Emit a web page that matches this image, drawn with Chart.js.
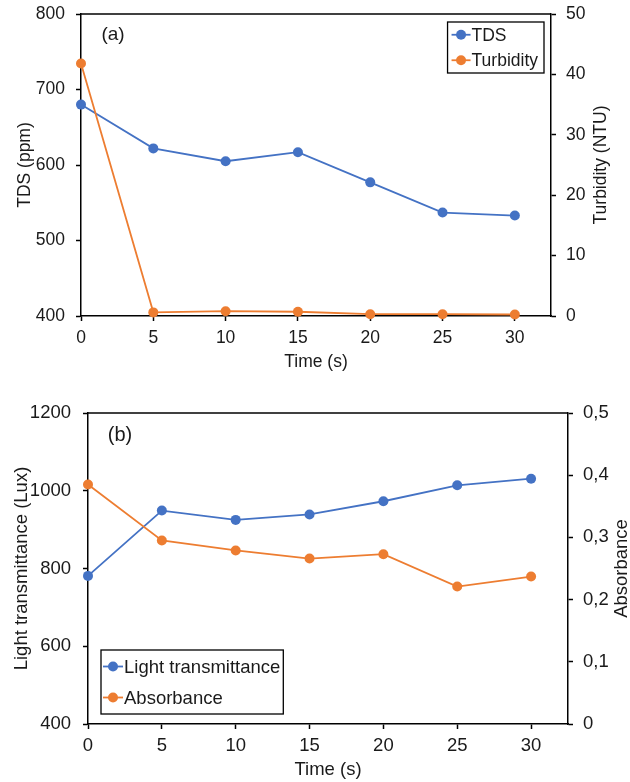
<!DOCTYPE html>
<html>
<head>
<meta charset="UTF-8">
<title>TDS, turbidity, light transmittance and absorbance vs time</title>
<script src="https://cdn.jsdelivr.net/npm/chart.js"></script>
<style>
  body { margin: 0; background: #fff; }
  canvas { position: absolute; left: 0; }
  #chartA { top: 0; }
  #chartB { top: 375px; }
</style>
</head>
<body>
<canvas id="chartA" width="630" height="375"></canvas>
<canvas id="chartB" width="630" height="407"></canvas>
<script>
// time points (s)
const times = [0, 5, 10, 15, 20, 25, 30];
const xTicks = [0, 5, 10, 15, 20, 25, 30];

// panel (a)
const tds = [680, 622, 605, 617, 577, 537, 533];
const turbidity = [41.8, 0.6, 0.8, 0.7, 0.3, 0.3, 0.25];

// panel (b)
const lightTrans = [781, 949, 925, 939, 973, 1014, 1031];
const absorbance = [0.385, 0.295, 0.279, 0.266, 0.273, 0.221, 0.237];

const BLUE = '#4472C4';
const ORANGE = '#ED7D31';
const INK = '#1a1a1a';
const FAMILY = '"Liberation Sans", Arial, sans-serif';

function points(ys) {
    return times.map(function(t, i) { return { x: t, y: ys[i] }; });
}

function series(label, ys, color, axisId, order) {
    return {
        label: label,
        data: points(ys),
        yAxisID: axisId,
        borderColor: color,
        backgroundColor: color,
        borderWidth: 1.8,
        pointRadius: 5,
        pointHoverRadius: 5,
        pointBorderWidth: 0,
        tension: 0,
        clip: false,
        order: order
    };
}

// fixed axis box size; label overhang must not push the plot area around
function fixSize(size) {
    return function(s) {
        if (s.isHorizontal()) s.height = size; else s.width = size;
        s.paddingTop = 0; s.paddingBottom = 0;
        s.paddingLeft = 0; s.paddingRight = 0;
    };
}

function axis(fontSize, extra) {
    const base = {
        type: 'linear',
        grid: { drawOnChartArea: false, color: '#000', tickLength: 5, tickWidth: 1.5 },
        border: { color: '#000', width: 1.5 }
    };
    const t = extra.ticks || {};
    const out = Object.assign(base, extra);
    out.ticks = Object.assign({ font: { family: FAMILY, size: fontSize }, color: INK }, t);
    if (out.title) out.title.font = { family: FAMILY, size: fontSize };
    return out;
}

function plain(v) { return String(v); }

// frame line along the top of the plot area
const frameTop = {
    id: 'frameTop',
    afterDraw(chart) {
        const a = chart.chartArea, ctx = chart.ctx;
        ctx.save();
        ctx.strokeStyle = '#000';
        ctx.lineWidth = 1.5;
        ctx.beginPath();
        ctx.moveTo(a.left, a.top);
        ctx.lineTo(a.right, a.top);
        ctx.stroke();
        ctx.restore();
    }
};

// panel tag and right-hand axis title (reads bottom to top)
const extraText = {
    id: 'extraText',
    afterDraw(chart, args, o) {
        const a = chart.chartArea, ctx = chart.ctx;
        ctx.save();
        ctx.fillStyle = INK;
        ctx.textAlign = 'center';
        ctx.textBaseline = 'middle';
        ctx.font = o.tagSize + 'px ' + FAMILY;
        ctx.fillText(o.tag, a.left + o.tagDx, a.top + o.tagDy);
        ctx.font = o.fontSize + 'px ' + FAMILY;
        ctx.translate(o.rightX, (a.top + a.bottom) / 2);
        ctx.rotate(-Math.PI / 2);
        ctx.fillText(o.rightTitle, 0, 0);
        ctx.restore();
    }
};

// boxed legend with line-and-marker symbols
const boxLegend = {
    id: 'boxLegend',
    afterDraw(chart, args, o) {
        const a = chart.chartArea, ctx = chart.ctx;
        const sets = chart.data.datasets;
        ctx.save();
        ctx.font = o.fontSize + 'px ' + FAMILY;
        let textW = 0;
        sets.forEach(function(d) { textW = Math.max(textW, ctx.measureText(d.label).width); });
        const w = o.padL + o.symW + o.gap + textW + o.padR;
        const h = o.padT + o.rowH * sets.length + o.padB;
        const left = o.corner === 'tr' ? a.right - o.dx - w : a.left + o.dx;
        const top = o.corner === 'tr' ? a.top + o.dy : a.bottom - o.dy - h;
        ctx.fillStyle = '#fff';
        ctx.fillRect(left, top, w, h);
        ctx.strokeStyle = '#000';
        ctx.lineWidth = 1.3;
        ctx.strokeRect(left, top, w, h);
        sets.forEach(function(d, i) {
            const cy = top + o.padT + o.rowH * (i + 0.5);
            const sx = left + o.padL;
            ctx.strokeStyle = d.borderColor;
            ctx.lineWidth = 1.8;
            ctx.beginPath();
            ctx.moveTo(sx, cy);
            ctx.lineTo(sx + o.symW, cy);
            ctx.stroke();
            ctx.fillStyle = d.borderColor;
            ctx.beginPath();
            ctx.arc(sx + o.symW / 2, cy, 5, 0, Math.PI * 2);
            ctx.fill();
            ctx.fillStyle = INK;
            ctx.textAlign = 'left';
            ctx.textBaseline = 'middle';
            ctx.fillText(d.label, sx + o.symW + o.gap, cy + 1);
        });
        ctx.restore();
    }
};

function xAxis(fontSize, height, titlePad, tickPad) {
    return axis(fontSize, {
        position: 'bottom',
        min: 0,
        max: 32.5,
        afterBuildTicks: function(s) { s.ticks = xTicks.map(function(v) { return { value: v }; }); },
        ticks: { padding: tickPad, callback: plain },
        title: { display: true, text: 'Time (s)', color: INK, padding: { top: 0, bottom: titlePad } },
        afterFit: fixSize(height)
    });
}

const FONT_A = 17.5;
const FONT_B = 18.5;

const chartA = new Chart(document.getElementById('chartA'), {
    type: 'line',
    data: {
        datasets: [
            series('TDS', tds, BLUE, 'y', 1),
            series('Turbidity', turbidity, ORANGE, 'y1', 0)
        ]
    },
    options: {
        responsive: false,
        animation: false,
        layout: { padding: { top: 14, left: 0, right: 0, bottom: 0 } },
        plugins: {
            legend: { display: false },
            tooltip: { enabled: false },
            extraText: { tag: '(a)', tagSize: 19, tagDx: 32, tagDy: 21, fontSize: FONT_A, rightTitle: 'Turbidity (NTU)', rightX: 601 },
            boxLegend: { fontSize: FONT_A, corner: 'tr', dx: 7, dy: 8, padL: 4, symW: 19, gap: 1, padR: 6, padT: 0, padB: 0, rowH: 25.5 }
        },
        scales: {
            x: xAxis(FONT_A, 59, 2.5, 7),
            y: axis(FONT_A, {
                position: 'left', min: 400, max: 800,
                ticks: { stepSize: 100, padding: 11, callback: plain },
                title: { display: true, text: 'TDS (ppm)', color: INK, padding: { top: 15, bottom: 0 } },
                afterFit: fixSize(81)
            }),
            y1: axis(FONT_A, {
                position: 'right', min: 0, max: 50,
                ticks: { stepSize: 10, padding: 10, callback: plain },
                afterFit: fixSize(79)
            })
        }
    },
    plugins: [frameTop, extraText, boxLegend]
});

const chartB = new Chart(document.getElementById('chartB'), {
    type: 'line',
    data: {
        datasets: [
            series('Light transmittance', lightTrans, BLUE, 'y', 1),
            series('Absorbance', absorbance, ORANGE, 'y1', 0)
        ]
    },
    options: {
        responsive: false,
        animation: false,
        layout: { padding: { top: 38, left: 0, right: 0, bottom: 0 } },
        plugins: {
            legend: { display: false },
            tooltip: { enabled: false },
            extraText: { tag: '(b)', tagSize: 20, tagDx: 32, tagDy: 22, fontSize: FONT_B, rightTitle: 'Absorbance', rightX: 622 },
            boxLegend: { fontSize: FONT_B, corner: 'bl', dx: 13, dy: 10, padL: 2, symW: 20, gap: 1, padR: 3, padT: 1, padB: 1, rowH: 31 }
        },
        scales: {
            x: xAxis(FONT_B, 58, 1, 6),
            y: axis(FONT_B, {
                position: 'left', min: 400, max: 1200,
                ticks: { stepSize: 200, padding: 12, callback: plain },
                title: { display: true, text: 'Light transmittance (Lux)', color: INK, padding: { top: 11, bottom: 0 } },
                afterFit: fixSize(88)
            }),
            y1: axis(FONT_B, {
                position: 'right', min: 0, max: 0.5,
                ticks: {
                    stepSize: 0.1, padding: 10,
                    callback: function(v) { return v === 0 ? '0' : v.toFixed(1).replace('.', ','); }
                },
                afterFit: fixSize(62)
            })
        }
    },
    plugins: [frameTop, extraText, boxLegend]
});
</script>
</body>
</html>
